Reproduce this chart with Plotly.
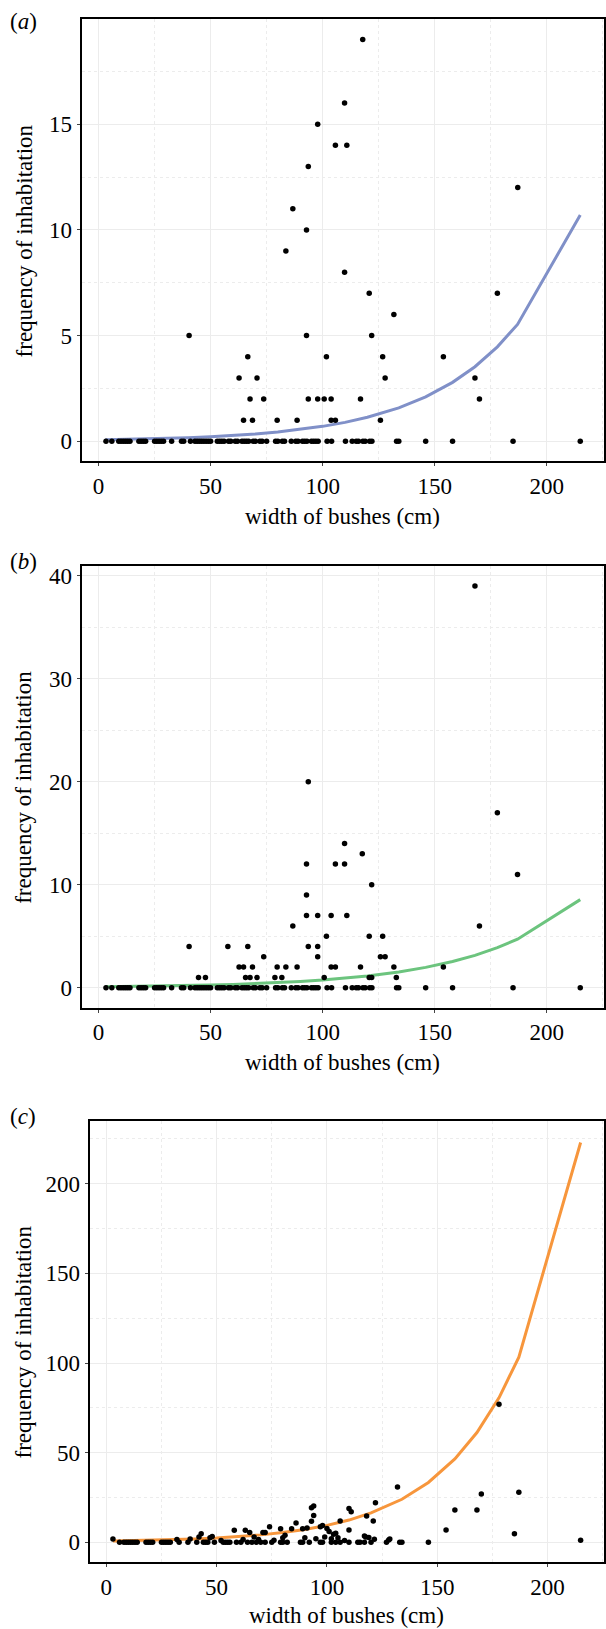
import plotly.graph_objects as go

# ---------------- data ----------------
# bushes with zero inhabitation (panels a and b share this zero row)
zero_row_widths = [3.3, 5.9, 9, 10, 11, 12, 13, 14, 18, 19, 20, 21, 25, 26, 27, 28, 29,
                   32.6, 37, 38, 41, 43, 44, 45, 46, 47, 48, 49, 50, 53, 54, 55, 56, 58, 59,
                   61, 62, 64, 65, 66, 67, 69, 70, 72, 73, 75, 79, 80, 82, 83, 86, 88, 89,
                   91, 92, 93, 95, 96, 97, 98, 102, 104, 110.2, 113.2, 115, 116, 118, 119,
                   121, 122, 133, 134, 146, 158, 185, 215]

a_width = [117.9, 109.8, 97.8, 105.7, 110.8, 93.6, 187.1, 86.7, 92.8, 83.6, 109.8, 120.8,
           178, 131.8, 40.4, 92.8, 121.9, 66.6, 101.7, 126.8, 153.9, 62.7, 70.7, 127.9, 168,
           67.6, 73.7, 93.6, 97.8, 100.7, 103.8, 116.9, 170, 64.7, 68.7, 79.7, 88.6, 103.8,
           105.7, 125.8]
a_count = [19, 16, 15, 14, 14, 13, 12, 11, 10, 9, 8, 7,
           7, 6, 5, 5, 5, 4, 4, 4, 4, 3, 3, 3, 3,
           2, 2, 2, 2, 2, 2, 2, 2, 1, 1, 1, 1, 1,
           1, 1]

b_width = [168, 93.6, 178, 109.8, 117.7, 92.8, 105.7, 109.8, 187, 121.9, 92.8, 92.8, 97.8,
           103.8, 110.8, 86.7, 170, 101.7, 120.8, 126.8, 40.4, 57.7, 66.6, 93.6, 97.8, 73.7,
           97.8, 125.8, 127.9, 62.7, 64.7, 68.7, 79.7, 83.6, 88.6, 103.8, 105.7, 116.9, 131.8,
           153.9, 44.6, 47.7, 65.6, 67.6, 70.7, 78.7, 81.8, 100.7, 120.8, 121.9, 132.9]
b_count = [39, 20, 17, 14, 13, 12, 12, 12, 11, 10, 9, 7, 7,
           7, 7, 6, 6, 5, 5, 5, 4, 4, 4, 4, 4, 3,
           3, 3, 3, 2, 2, 2, 2, 2, 2, 2, 2, 2, 2,
           2, 1, 1, 1, 1, 1, 1, 1, 1, 1, 1, 1]

c_zero_widths = [6, 8, 9, 10, 11, 12, 13, 14, 18, 19, 20, 21, 25, 26, 27, 28, 29, 33, 37,
                 41, 44, 45, 46, 49, 53, 54, 55, 56, 59, 61, 64, 66, 68, 70, 72, 75, 79, 80,
                 82, 88, 89, 92, 97, 98, 102, 104, 106, 110, 114, 115, 117, 120, 127, 133,
                 134, 146]
c_width = [3, 32, 38, 42, 43, 47, 48, 52, 58, 62, 63, 65, 67, 69, 71, 72, 74, 76, 79, 80,
           81, 84, 86, 89, 90, 91, 93, 93, 94, 94, 95, 97, 98, 99, 100, 101, 102, 103, 104,
           105, 106, 108, 110, 111, 110, 117, 117.6, 118, 119, 121, 121.5, 122, 128, 128.5,
           132, 154, 158, 168, 170, 178, 185, 187, 215]
c_count = [1.8, 1.5, 1.9, 3, 4.8, 2.5, 3.2, 1, 6.7, 1.5, 6.7, 5.5, 3, 1.5, 5.5, 5.5, 8.7,
           1.2, 7.5, 2.5, 4, 7.5, 10.8, 7.5, 2.5, 8, 11.7, 19.3, 20.3, 15, 2, 8.7, 9.3, 3,
           7.7, 6, 2, 4.5, 5, 2.5, 11.9, 1, 18.9, 17.1, 6.9, 3.5, 3, 14.7, 2.7, 11.9, 1.7,
           22, 1.3, 1.8, 30.8, 6.9, 18, 18, 27, 77, 4.8, 27.9, 1.1]

# fitted curves (at these widths)
fit_width = [3, 10, 20, 30, 40, 50, 60, 70, 80, 90, 100, 110, 120, 134, 146, 158, 168, 178, 187, 215]
fit_a = [0.072, 0.085, 0.107, 0.136, 0.172, 0.218, 0.276, 0.35, 0.442, 0.56, 0.709, 0.898,
         1.137, 1.58, 2.10, 2.79, 3.53, 4.47, 5.53, 10.7]
fit_b = [0.093, 0.108, 0.134, 0.166, 0.206, 0.254, 0.315, 0.39, 0.482, 0.597, 0.738, 0.913,
         1.13, 1.52, 1.97, 2.54, 3.14, 3.89, 4.71, 8.55]
fit_c = [0.66, 0.80, 1.05, 1.38, 1.81, 2.39, 3.14, 4.14, 5.45, 7.17, 9.44, 12.4, 16.4, 24.0,
         33.4, 46.5, 61.2, 80.6, 103.3, 223]

x_ticks = [0, 50, 100, 150, 200]
panel_labels = ["(<i>a</i>)", "(<i>b</i>)", "(<i>c</i>)"]
x_title = "width of bushes (cm)"
y_title = "frequency of inhabitation"

# ---------------- figure ----------------
W, H = 606, 1629
FONT = "Liberation Serif, Times New Roman, serif"
line_colors = ["#8090C8", "#6CC47E", "#F7963C"]

fig = go.Figure()

panels = [
    (zero_row_widths, a_width, a_count, fit_a, [-0.95, 19.95], 5, 2.5, (17.5, 460), 81.7),
    (zero_row_widths, b_width, b_count, fit_b, [-1.95, 40.95], 10, 5, (564.7, 1007), 81.7),
    (c_zero_widths, c_width, c_count, fit_c, [-11.2, 235.2], 50, 25, (1120, 1562.3), 89.7),
]

grid_col = "#ECECEC"
for i, (zw, xw, yc, fit, yr, dt, mdt, (ptop, pbot), pleft) in enumerate(panels):
    n = "" if i == 0 else str(i + 1)
    xa, ya = "x" + n, "y" + n
    fig.add_trace(go.Scatter(x=fit_width, y=fit, mode="lines", xaxis=xa, yaxis=ya,
                             line=dict(color=line_colors[i], width=3), showlegend=False,
                             hoverinfo="skip"))
    fig.add_trace(go.Scatter(x=zw + xw, y=[0] * len(zw) + yc, mode="markers", xaxis=xa, yaxis=ya,
                             marker=dict(color="black", size=5.5), showlegend=False,
                             cliponaxis=False))
    common = dict(showline=True, linecolor="black", linewidth=2, mirror=True,
                  ticks="outside", ticklen=3, tickcolor="#444", tickwidth=1,
                  showgrid=True, gridcolor=grid_col, gridwidth=1, zeroline=False,
                  tickfont=dict(family=FONT, size=23, color="black"))
    fig.update_layout({
        "xaxis" + n: dict(domain=[pleft / W, 605 / W], anchor=ya, range=[-7.6, 225.6],
                          tickvals=x_ticks,
                          minor=dict(dtick=25, tick0=0, showgrid=True, gridcolor=grid_col,
                                     griddash="dot", ticks=""),
                          **common),
        "yaxis" + n: dict(domain=[1 - pbot / H, 1 - ptop / H], anchor=xa, range=yr,
                          dtick=dt, tick0=0,
                          minor=dict(dtick=mdt, tick0=0, showgrid=True, gridcolor=grid_col,
                                     griddash="dot", ticks=""),
                          **common),
    })

# annotations: panel labels, axis titles
ann = []
label_y = [20, 560, 1116]
xt_y = [515, 1062, 1615]
for i in range(3):
    ptop, pbot = panels[i][7]
    pleft = panels[i][8]
    ann.append(dict(text=panel_labels[i], x=8 / W, y=1 - label_y[i] / H, xref="paper", yref="paper",
                    xanchor="left", yanchor="middle", showarrow=False,
                    font=dict(family=FONT, size=23, color="black")))
    ann.append(dict(text=x_title, x=((pleft + 605) / 2) / W, y=1 - xt_y[i] / H, xref="paper",
                    yref="paper", xanchor="center", yanchor="middle", showarrow=False,
                    font=dict(family=FONT, size=23, color="black")))
    ann.append(dict(text=y_title, x=24 / W, y=1 - ((ptop + pbot) / 2) / H, xref="paper",
                    yref="paper", xanchor="center", yanchor="middle", textangle=-90,
                    showarrow=False, font=dict(family=FONT, size=23, color="black")))

fig.update_layout(width=W, height=H, margin=dict(l=0, r=0, t=0, b=0),
                  paper_bgcolor="white", plot_bgcolor="white", annotations=ann,
                  font=dict(family=FONT, size=23, color="black"))

fig.write_html("out.html", config={"displayModeBar": False},
               post_script="document.body.style.margin='0px';document.body.style.overflow='hidden';")
